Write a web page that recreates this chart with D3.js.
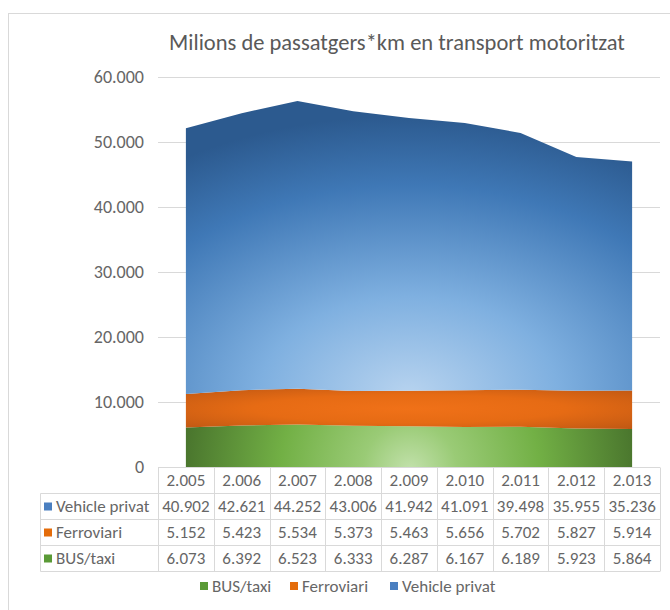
<!DOCTYPE html>
<html>
<head>
<meta charset="utf-8">
<script src="https://cdn.jsdelivr.net/npm/d3@7"></script>
<style>
  body { margin: 0; background: #fff; }
  svg { font-family: Calibri, Carlito, "Liberation Sans", Arial, sans-serif; }
  .title { fill: #595959; font-size: 22.5px; }
  .tick-label { fill: #666; font-size: 18px; }
  .cell { fill: #666; font-size: 17px; }
  .grid { stroke: #d9d9d9; stroke-width: 1; }
  .tbl { stroke: #d9d9d9; stroke-width: 1; fill: none; }
</style>
</head>
<body>
<div id="chart"></div>
<script>
// data
const years = ['2.005', '2.006', '2.007', '2.008', '2.009', '2.010', '2.011', '2.012', '2.013'];
const vehiclePrivat = [40902, 42621, 44252, 43006, 41942, 41091, 39498, 35955, 35236];
const ferroviari = [5152, 5423, 5534, 5373, 5463, 5656, 5702, 5827, 5914];
const busTaxi = [6073, 6392, 6523, 6333, 6287, 6167, 6189, 5923, 5864];
const yTicks = [0, 10000, 20000, 30000, 40000, 50000, 60000];

const seriesNames = ['BUS/taxi', 'Ferroviari', 'Vehicle privat'];
const seriesValues = [busTaxi, ferroviari, vehiclePrivat];
const tableOrder = ['Vehicle privat', 'Ferroviari', 'BUS/taxi'];

const width = 670;
const height = 610;
const margin = { left: 158, top: 77 };
const plotRight = 660;
const plotBottom = 467;

const locale = d3.formatLocale({ decimal: ',', thousands: '.', grouping: [3], currency: ['', ''] });
const fmt = locale.format(',d');

const rows = years.map((yr, i) => {
  const r = { year: yr };
  seriesNames.forEach((s, k) => { r[s] = seriesValues[k][i]; });
  return r;
});

const stacked = d3.stack().keys(seriesNames)(rows);

const x = d3.scaleBand().domain(years).range([margin.left, plotRight]);
const y = d3.scaleLinear().domain([0, 60000]).range([plotBottom, margin.top]);

const svg = d3.select('#chart').append('svg')
    .attr('width', width)
    .attr('height', height);

const defs = svg.append('defs');

function radial(id, cx, cy, r, stops, units) {
  const g = defs.append('radialGradient')
      .attr('id', id)
      .attr('cx', cx).attr('cy', cy).attr('r', r)
      .attr('fx', cx).attr('fy', cy);
  if (units) g.attr('gradientUnits', units);
  stops.forEach(s => g.append('stop').attr('offset', s[0]).attr('stop-color', s[1]));
}

radial('gBlue', 0.5, 1.0, 0.95, [[0, '#b7d3ef'], [0.35, '#7fb0e0'], [0.75, '#3f78b6'], [1, '#2c5a8f']]);
radial('gOrange', 0.5, 0.5, 0.7, [[0, '#f07118'], [0.5, '#e66b14'], [1, '#c05813']]);
radial('gGreen', 410, 470, 235, [[0, '#c2e1ab'], [0.2, '#9acb76'], [0.55, '#72b045'], [1, '#46702b']], 'userSpaceOnUse');

const fills = { 'BUS/taxi': 'url(#gGreen)', 'Ferroviari': 'url(#gOrange)', 'Vehicle privat': 'url(#gBlue)' };
const markers = { 'BUS/taxi': '#5a9a36', 'Ferroviari': '#e46c0a', 'Vehicle privat': '#4a7fc0' };

// outer chart border
svg.append('rect')
    .attr('x', 8.5).attr('y', 13.5)
    .attr('width', 700).attr('height', 700)
    .attr('fill', 'none')
    .attr('stroke', '#d9d9d9');

// title
svg.append('text')
    .attr('class', 'title')
    .attr('x', 397)
    .attr('y', 50)
    .attr('text-anchor', 'middle')
    .text('Milions de passatgers*km en transport motoritzat');

// gridlines
svg.append('g').selectAll('line')
  .data(yTicks.filter(d => d > 0))
  .join('line')
    .attr('class', 'grid')
    .attr('x1', margin.left).attr('x2', plotRight)
    .attr('y1', d => Math.round(y(d)) + 0.5)
    .attr('y2', d => Math.round(y(d)) + 0.5);

// y labels
svg.append('g').selectAll('text')
  .data(yTicks)
  .join('text')
    .attr('class', 'tick-label')
    .attr('x', 144)
    .attr('y', d => y(d))
    .attr('dy', '0.35em')
    .attr('text-anchor', 'end')
    .text(d => fmt(d));

// areas
const area = d3.area()
    .x(d => x(d.data.year) + x.bandwidth() / 2)
    .y0(d => y(d[0]))
    .y1(d => y(d[1]));

svg.append('g').selectAll('path')
  .data(stacked)
  .join('path')
    .attr('fill', d => fills[d.key])
    .attr('d', area);

// data table
const rowH = 26;
const headTop = plotBottom + 0.5;
const tableLeft = 40.5;
const tg = svg.append('g');

tg.append('line').attr('class', 'tbl')
    .attr('x1', margin.left).attr('x2', plotRight)
    .attr('y1', headTop).attr('y2', headTop);

for (let i = 1; i <= 4; i++) {
  tg.append('line').attr('class', 'tbl')
      .attr('x1', tableLeft).attr('x2', plotRight)
      .attr('y1', headTop + i * rowH).attr('y2', headTop + i * rowH);
}
tg.append('line').attr('class', 'tbl')
    .attr('x1', tableLeft).attr('x2', tableLeft)
    .attr('y1', headTop + rowH).attr('y2', headTop + 4 * rowH);

years.forEach(yr => {
  tg.append('line').attr('class', 'tbl')
      .attr('x1', Math.round(x(yr)) + 0.5).attr('x2', Math.round(x(yr)) + 0.5)
      .attr('y1', headTop).attr('y2', headTop + 4 * rowH);
});
tg.append('line').attr('class', 'tbl')
    .attr('x1', plotRight + 0.5).attr('x2', plotRight + 0.5)
    .attr('y1', headTop).attr('y2', headTop + 4 * rowH);

tg.selectAll('.yr')
  .data(years)
  .join('text')
    .attr('class', 'cell')
    .attr('x', d => x(d) + x.bandwidth() / 2)
    .attr('y', headTop + rowH / 2)
    .attr('dy', '0.35em')
    .attr('text-anchor', 'middle')
    .text(d => d);

tableOrder.forEach((name, r) => {
  const cy = headTop + (r + 1) * rowH + rowH / 2;
  tg.append('rect')
      .attr('x', 44).attr('y', cy - 4)
      .attr('width', 8).attr('height', 8)
      .attr('fill', markers[name]);
  tg.append('text')
      .attr('class', 'cell')
      .attr('x', 56).attr('y', cy).attr('dy', '0.35em')
      .text(name);
  const vals = seriesValues[seriesNames.indexOf(name)];
  tg.selectAll(null)
    .data(vals)
    .join('text')
      .attr('class', 'cell')
      .attr('x', (d, i) => x(years[i]) + x.bandwidth() / 2)
      .attr('y', cy).attr('dy', '0.35em')
      .attr('text-anchor', 'middle')
      .text(d => fmt(d));
});

// legend
const legendX = [200, 290, 390];
const lg = svg.append('g');
seriesNames.forEach((name, i) => {
  lg.append('rect')
      .attr('x', legendX[i]).attr('y', 582)
      .attr('width', 8).attr('height', 8)
      .attr('fill', markers[name]);
  lg.append('text')
      .attr('class', 'cell')
      .attr('x', legendX[i] + 12).attr('y', 586).attr('dy', '0.35em')
      .text(name);
});
</script>
</body>
</html>
